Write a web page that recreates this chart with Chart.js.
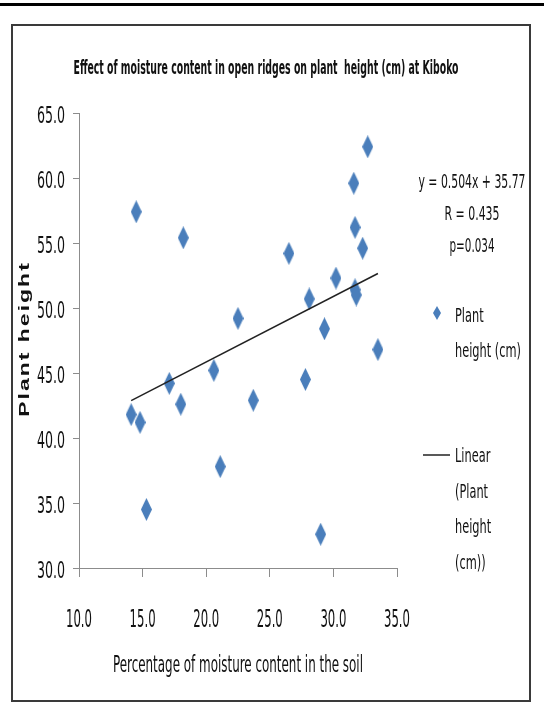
<!DOCTYPE html>
<html>
<head>
<meta charset="utf-8">
<title>Plant height vs moisture content</title>
<script src="https://cdn.jsdelivr.net/npm/chart.js@4.4.0/dist/chart.umd.min.js"></script>
<style>
  html, body { margin: 0; padding: 0; background: #fff; }
  #wrap { width: 544px; height: 704px; }
</style>
</head>
<body>
<div id="wrap"><canvas id="chart" width="544" height="704"></canvas></div>
<script>
/* ── data ── */
const moisture    = [14.5, 18.2, 22.5, 32.7, 31.6, 31.7, 32.3, 26.5, 30.2, 28.1, 31.7, 31.8,
                     29.3, 33.5, 27.8, 29.0, 20.6, 17.1, 18.0, 23.7, 14.1, 14.8, 21.1, 15.3];
const plantHeight = [57.4, 55.4, 49.2, 62.4, 59.6, 56.2, 54.6, 54.2, 52.3, 50.7, 51.4, 51.0,
                     48.4, 46.8, 44.5, 32.6, 45.2, 44.2, 42.6, 42.9, 41.8, 41.2, 37.8, 34.5];
const SLOPE = 0.504, INTERCEPT = 35.77;
const statLines = ['y = 0.504x + 35.77', 'R = 0.435', 'p=0.034'];
const xRange = [10, 35], yRange = [30, 65], STEP = 5;

const TITLE  = 'Effect of moisture content in open ridges on plant  height (cm) at Kiboko';
const XTITLE = 'Percentage of moisture content in the soil';
const YTITLE = 'Plant height';
const seriesLabel = ['Plant', 'height (cm)'];
const trendLabel  = ['Linear', '(Plant', 'height', '(cm))'];

const BLUE = '#4A7EBB';
const NARROW = '"Liberation Sans Narrow", "DejaVu Sans Condensed", sans-serif';

// elongated diamond marker
function diamond(w, h) {
  const c = document.createElement('canvas');
  c.width = w; c.height = h;
  const g = c.getContext('2d');
  g.fillStyle = BLUE;
  g.beginPath();
  g.moveTo(w / 2, 0); g.lineTo(w, h / 2); g.lineTo(w / 2, h); g.lineTo(0, h / 2);
  g.closePath(); g.fill();
  return c;
}

function fontOf(o) {
  return (o.bold ? 'bold ' : '') + o.size + 'px ' + (o.family || NARROW);
}

// horizontally squeezed text
function txt(ctx, s, x, y, o) {
  ctx.save();
  ctx.font = fontOf(o);
  ctx.textAlign = 'left';
  ctx.textBaseline = 'alphabetic';
  const nat = ctx.measureText(s).width;
  const sx = o.width ? o.width / nat : (o.sx || 1);
  const w = nat * sx;
  const x0 = o.align === 'center' ? x - w / 2 : o.align === 'right' ? x - w : x;
  ctx.translate(x0, y);
  ctx.scale(sx, 1);
  ctx.fillStyle = o.color || '#111';
  ctx.fillText(s, 0, 0);
  ctx.restore();
}

// squeeze factor that makes `s` span `w` pixels
function fitScale(ctx, s, w, o) {
  ctx.save();
  ctx.font = fontOf(o);
  const k = w / ctx.measureText(s).width;
  ctx.restore();
  return k;
}

const points = moisture.map((x, i) => ({ x, y: plantHeight[i] }));
const xMin = Math.min(...moisture), xMax = Math.max(...moisture);
const trend = [xMin, xMax].map(x => ({ x, y: SLOPE * x + INTERCEPT }));

const frame = {
  id: 'frame',
  beforeDraw(chart) {
    const ctx = chart.ctx;
    ctx.save();
    ctx.fillStyle = '#fff';
    ctx.fillRect(0, 0, chart.width, chart.height);
    ctx.fillStyle = '#000';
    ctx.fillRect(0, 3, chart.width, 3);
    ctx.strokeStyle = '#3a3a3a';
    ctx.lineWidth = 2;
    ctx.strokeRect(12, 25, 518, 676);
    ctx.restore();
  },
  afterDraw(chart) {
    const ctx = chart.ctx;
    const xs = chart.scales.x, ys = chart.scales.y;

    // ── titles ──
    txt(ctx, TITLE, 266, 74, { size: 19, bold: true, width: 385, align: 'center' });
    txt(ctx, XTITLE, 238, 672, { size: 23, width: 250, align: 'center' });

    // rotated, spaced y title
    ctx.save();
    ctx.translate(29, 340);
    ctx.rotate(-Math.PI / 2);
    ctx.scale(1, 0.62);
    ctx.font = 'bold 23px "Liberation Sans", Arial, sans-serif';
    ctx.fillStyle = '#111';
    const gap = 2;
    const chars = YTITLE.split('');
    const total = chars.reduce((a, ch) => a + ctx.measureText(ch).width, 0) + gap * (chars.length - 1);
    let cx = -total / 2;
    chars.forEach(ch => { ctx.fillText(ch, cx, 0); cx += ctx.measureText(ch).width + gap; });
    ctx.restore();

    // ── tick labels ──
    const tickX = { size: 25, align: 'center' };
    tickX.sx = fitScale(ctx, '10.0', 26, tickX);
    xs.ticks.forEach(t => txt(ctx, t.value.toFixed(1), xs.getPixelForValue(t.value), 627, tickX));
    const tickY = { size: 23, align: 'right' };
    tickY.sx = fitScale(ctx, '65.0', 28, tickY);
    ys.ticks.forEach(t => txt(ctx, t.value.toFixed(1), 65, ys.getPixelForValue(t.value) + 10, tickY));

    // ── regression stats ──
    const statW = [107, 55, 45];
    statLines.forEach((s, i) => txt(ctx, s, 472, 188 + i * 32, { size: 19, width: statW[i], align: 'center' }));

    // ── legend ──
    ctx.drawImage(diamond(8, 14), 433, 306);
    const leg = { size: 20 };
    leg.sx = fitScale(ctx, seriesLabel[1], 66, leg);
    seriesLabel.forEach((s, i) => txt(ctx, s, 455, 322 + i * 35, leg));
    ctx.save();
    ctx.strokeStyle = '#222';
    ctx.lineWidth = 1.5;
    ctx.beginPath(); ctx.moveTo(423, 455); ctx.lineTo(450, 455); ctx.stroke();
    ctx.restore();
    trendLabel.forEach((s, i) => txt(ctx, s, 455, 462 + i * 35.5, leg));
  }
};

const axisGrid = { drawOnChartArea: false, drawTicks: true, color: '#8c8c8c', lineWidth: 1 };

new Chart(document.getElementById('chart'), {
  type: 'scatter',
  data: {
    datasets: [
      { label: 'Linear (Plant height (cm))', type: 'line', data: trend, order: 0,
        borderColor: '#222', borderWidth: 1.5, pointRadius: 0, fill: false, tension: 0 },
      { label: 'Plant height (cm)', data: points, order: 1,
        pointStyle: diamond(11, 23), pointRadius: 6 }
    ]
  },
  options: {
    responsive: false,
    animation: false,
    events: [],
    layout: { padding: { left: 0, top: 113, right: 147, bottom: 0 } },
    plugins: { legend: { display: false }, tooltip: { enabled: false }, title: { display: false } },
    scales: {
      x: {
        type: 'linear', min: xRange[0], max: xRange[1],
        ticks: { stepSize: STEP, display: false },
        grid: { ...axisGrid, tickLength: 9 },
        border: { color: '#8c8c8c', width: 1 },
        afterFit: s => { s.height = 136; }
      },
      y: {
        type: 'linear', min: yRange[0], max: yRange[1],
        ticks: { stepSize: STEP, display: false },
        grid: { ...axisGrid, tickLength: 6 },
        border: { color: '#8c8c8c', width: 1 },
        afterFit: s => { s.width = 79; }
      }
    }
  },
  plugins: [frame]
});
</script>
</body>
</html>
